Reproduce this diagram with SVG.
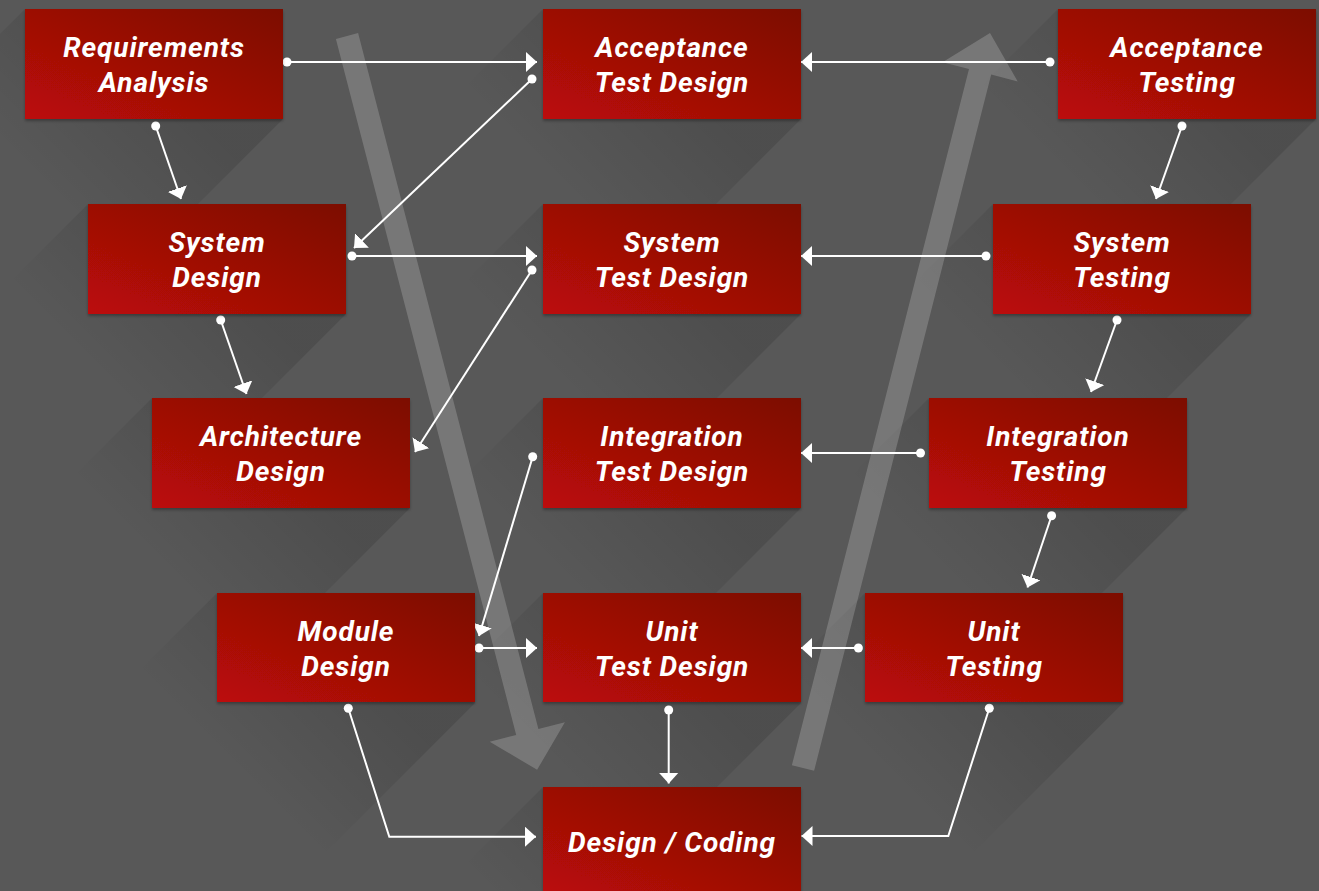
<svg xmlns="http://www.w3.org/2000/svg" width="1319" height="891" viewBox="0 0 1319 891">
<defs>
<linearGradient id="boxg" x1="0" y1="1" x2="1" y2="0">
<stop offset="0" stop-color="#bc0808"/>
<stop offset="1" stop-color="#7c0a02"/>
</linearGradient>
<linearGradient id="shg" gradientUnits="userSpaceOnUse" x1="120" y1="60" x2="10" y2="170">
<stop offset="0" stop-color="#000" stop-opacity="0.12"/>
<stop offset="1" stop-color="#000" stop-opacity="0"/>
</linearGradient>
<filter id="ds" x="-5%" y="-5%" width="110%" height="120%">
<feDropShadow dx="0" dy="2" stdDeviation="1.5" flood-color="#000" flood-opacity="0.3"/>
</filter>
<marker id="dot" markerUnits="userSpaceOnUse" markerWidth="10" markerHeight="10" refX="5" refY="5" viewBox="0 0 10 10"><circle cx="5" cy="5" r="4.5" fill="#fff"/></marker>
<marker id="arr" markerUnits="userSpaceOnUse" markerWidth="12" markerHeight="20" refX="11" refY="10" orient="auto" viewBox="0 0 12 20"><path d="M0,0 L11,10 L0,20 Z" fill="#fff"/></marker>
<polygon id="sh" points="0,0 258,0 258,110 108,260 -150,150" fill="url(#shg)"/>
</defs>
<style>
.box{fill:url(#boxg);filter:url(#ds)}
.lbl{font-family:Roboto,"Open Sans","Liberation Sans",sans-serif;font-weight:700;font-style:italic;font-size:28px;letter-spacing:0.9px;fill:#fff;text-anchor:middle}
.cn{fill:none;stroke:#fff;stroke-width:2;marker-start:url(#dot);marker-end:url(#arr)}
.big{fill:#fff;fill-opacity:0.19}
</style>
<rect width="1319" height="891" fill="#585858"/>
<g id="shadows">
<use href="#sh" transform="translate(25,9)"/>
<use href="#sh" transform="translate(543,9)"/>
<use href="#sh" transform="translate(1058,9)"/>
<use href="#sh" transform="translate(88,204)"/>
<use href="#sh" transform="translate(543,204)"/>
<use href="#sh" transform="translate(993,204)"/>
<use href="#sh" transform="translate(152,398)"/>
<use href="#sh" transform="translate(543,398)"/>
<use href="#sh" transform="translate(929,398)"/>
<use href="#sh" transform="translate(217,593)"/>
<use href="#sh" transform="translate(543,593)"/>
<use href="#sh" transform="translate(865,593)"/>
<use href="#sh" transform="translate(543,787)"/>
</g>
<g id="flow-arrows">
<polygon class="big" points="335.9,38.9 516.2,734.9 489.7,741.7 537.1,769.8 564.9,722.3 538.4,729.1 358.1,33.1"/>
<polygon class="big" points="791.9,765.2 969,69 942.5,62.2 990,33 1017.7,81.4 991.2,74.6 814.1,770.8"/>
</g>
<g id="connectors">
<path class="cn" d="M287,62 H537"/>
<path class="cn" d="M532,79 L354,248"/>
<path class="cn" d="M1050,62 H801"/>
<path class="cn" d="M155.7,126 L181,199"/>
<path class="cn" d="M352,256 H537"/>
<path class="cn" d="M532,270 L415,452"/>
<path class="cn" d="M986,256 H801"/>
<path class="cn" d="M1182,126 L1156,199"/>
<path class="cn" d="M220.7,320 L246.5,394"/>
<path class="cn" d="M1117,320 L1091,392"/>
<path class="cn" d="M920.5,453 H801"/>
<path class="cn" d="M532.7,456.7 L479,636"/>
<path class="cn" d="M1051.6,515.7 L1027.5,587.5"/>
<path class="cn" d="M479,648 H537"/>
<path class="cn" d="M858.4,648 H801"/>
<path class="cn" d="M668.7,710 V783.5"/>
<path class="cn" d="M348.3,708.3 L389.3,836.7 H536"/>
<path class="cn" d="M989.3,708.3 L948.3,836 H801.5"/>
</g>
<g id="req" transform="translate(25,9)"><rect class="box" width="258" height="110"/><text class="lbl" x="129" y="48">Requirements</text><text class="lbl" x="129" y="83">Analysis</text></g>
<g id="atd" transform="translate(543,9)"><rect class="box" width="258" height="110"/><text class="lbl" x="129" y="48">Acceptance</text><text class="lbl" x="129" y="83">Test Design</text></g>
<g id="at" transform="translate(1058,9)"><rect class="box" width="258" height="110"/><text class="lbl" x="129" y="48">Acceptance</text><text class="lbl" x="129" y="83">Testing</text></g>
<g id="sd" transform="translate(88,204)"><rect class="box" width="258" height="110"/><text class="lbl" x="129" y="48">System</text><text class="lbl" x="129" y="83">Design</text></g>
<g id="std" transform="translate(543,204)"><rect class="box" width="258" height="110"/><text class="lbl" x="129" y="48">System</text><text class="lbl" x="129" y="83">Test Design</text></g>
<g id="st" transform="translate(993,204)"><rect class="box" width="258" height="110"/><text class="lbl" x="129" y="48">System</text><text class="lbl" x="129" y="83">Testing</text></g>
<g id="ad" transform="translate(152,398)"><rect class="box" width="258" height="110"/><text class="lbl" x="129" y="48">Architecture</text><text class="lbl" x="129" y="83">Design</text></g>
<g id="itd" transform="translate(543,398)"><rect class="box" width="258" height="110"/><text class="lbl" x="129" y="48">Integration</text><text class="lbl" x="129" y="83">Test Design</text></g>
<g id="it" transform="translate(929,398)"><rect class="box" width="258" height="110"/><text class="lbl" x="129" y="48">Integration</text><text class="lbl" x="129" y="83">Testing</text></g>
<g id="md" transform="translate(217,593)"><rect class="box" width="258" height="109"/><text class="lbl" x="129" y="48">Module</text><text class="lbl" x="129" y="83">Design</text></g>
<g id="utd" transform="translate(543,593)"><rect class="box" width="258" height="109"/><text class="lbl" x="129" y="48">Unit</text><text class="lbl" x="129" y="83">Test Design</text></g>
<g id="ut" transform="translate(865,593)"><rect class="box" width="258" height="109"/><text class="lbl" x="129" y="48">Unit</text><text class="lbl" x="129" y="83">Testing</text></g>
<g id="dc" transform="translate(543,787)"><rect class="box" width="258" height="110"/><text class="lbl" x="129" y="65">Design / Coding</text></g>
</svg>
